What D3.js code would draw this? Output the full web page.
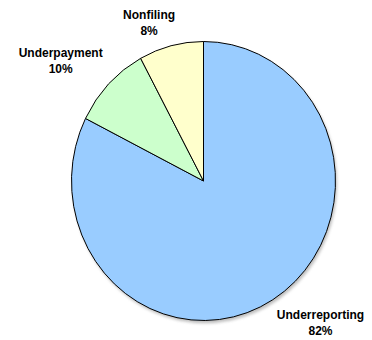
<!DOCTYPE html>
<html>
<head>
<meta charset="utf-8">
<script src="https://cdn.jsdelivr.net/npm/d3@7"></script>
<style>
  body { margin: 0; background: #fff; }
  text { font-family: "Liberation Sans", Arial, sans-serif; font-weight: bold; font-size: 12px; fill: #000; }
</style>
</head>
<body>
<svg id="chart" width="372" height="340"></svg>
<script>
// Share of the tax gap by type
var categories = ["Underreporting", "Underpayment", "Nonfiling"];
var shares = [82.4, 9.7, 7.9];
var colors = ["#99CCFF", "#CCFFCC", "#FFFFCC"];

window.onload = function() {

  var width = 372,
      height = 340,
      cx = 203.5,
      cy = 181,
      rx = 132,
      ry = 139.5,
      pct = d3.format(".0f");

  var svg = d3.select("#chart");

  var data = categories.map(function(c, i) {
    return {name: c, value: shares[i], color: colors[i]};
  });

  // Slices go clockwise from twelve o'clock, in data order
  var pie = d3.pie().sort(null).value(function(d) { return d.value; });
  var arc = d3.arc().innerRadius(0).outerRadius(rx);
  var arcs = pie(data);

  var defs = svg.append("defs");
  var shadow = defs.append("filter").attr("id", "shadow")
    .attr("x", "-10%").attr("y", "-10%").attr("width", "120%").attr("height", "120%");
  shadow.append("feGaussianBlur").attr("stdDeviation", 1.6);

  // Pie is slightly taller than wide, so stretch a circle
  var g = svg.append("g")
    .attr("transform", "translate(" + cx + "," + cy + ") scale(1," + (ry / rx) + ")");

  g.append("circle")
    .attr("cx", 1.5).attr("cy", 2.5).attr("r", rx)
    .attr("fill", "#888").attr("opacity", 0.55)
    .attr("filter", "url(#shadow)");

  g.selectAll("path.slice")
    .data(arcs)
    .enter().append("path")
    .attr("class", "slice")
    .attr("d", arc)
    .attr("fill", function(d) { return d.data.color; })
    .attr("stroke", "#000")
    .attr("stroke-width", 1)
    .attr("vector-effect", "non-scaling-stroke")
    .attr("stroke-linejoin", "round");

  // Labels sit outside the rim, corner nearest the slice's mid-angle
  var nudge = {Underpayment: [-10, 0]};

  var labels = svg.append("g");
  arcs.forEach(function(a) {
    var mid = (a.startAngle + a.endAngle) / 2,
        sx = Math.sin(mid),
        cyDir = -Math.cos(mid),
        px = cx + rx * sx,
        py = cy + ry * cyDir;

    var t = labels.append("text").attr("text-anchor", "middle");
    t.append("tspan").text(a.data.name);
    var w1 = t.node().getComputedTextLength();
    t.append("tspan").text(pct(a.data.value) + "%");
    var w = Math.max(w1, 24);

    var boxH = 30,
        left = sx >= 0 ? px + 4 : px + 4 - w,
        top = cyDir >= 0 ? py + 8 : py - 8 - boxH,
        n = nudge[a.data.name] || [0, 0];
    left += n[0];
    top += n[1];

    var mx = left + w / 2;
    t.selectAll("tspan")
      .attr("x", mx)
      .attr("y", function(d, i) { return top + 11 + i * 16; });
  });
};
</script>
</body>
</html>
